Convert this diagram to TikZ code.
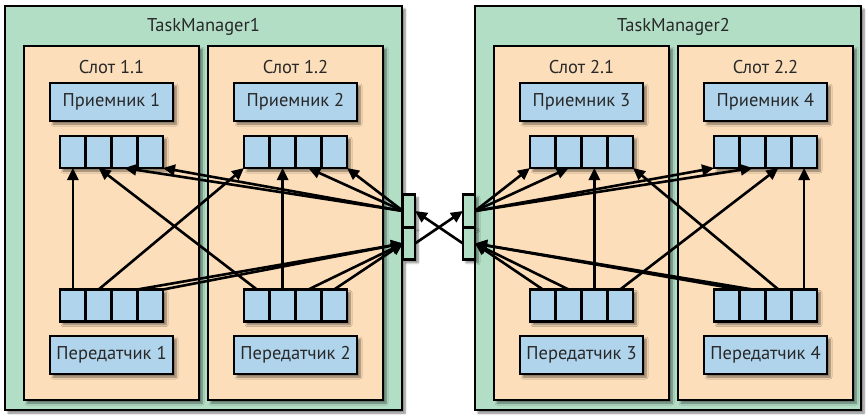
\documentclass[tikz,border=0pt]{standalone}
\usepackage{fontspec}
\setmainfont{PT Sans}
\usetikzlibrary{arrows.meta,shadows.blur}
\definecolor{tmgreen}{RGB}{178,222,198}
\definecolor{slotpeach}{RGB}{252,222,186}
\definecolor{cellblue}{RGB}{176,212,236}
\definecolor{txt}{RGB}{40,40,40}
\tikzset{
  box/.style={draw=black, line width=2.8pt, inner sep=0pt, outer sep=0pt,
    blur shadow={shadow xshift=3pt, shadow yshift=-3pt, shadow blur steps=6, shadow opacity=50}},
  tmbox/.style={box, fill=tmgreen},
  slotbox/.style={box, fill=slotpeach, minimum width=175pt, minimum height=354pt},
  opbox/.style={box, fill=cellblue, minimum width=123pt, minimum height=38pt,
    font=\fontsize{18.5}{20}\selectfont, text=txt},
  qbox/.style={box, fill=cellblue, minimum width=103pt, minimum height=32pt},
  cellbox/.style={draw=black, line width=2.8pt, fill=cellblue, minimum width=25.75pt,
    minimum height=32pt, inner sep=0pt, outer sep=0pt},
  gwbox/.style={box, fill=tmgreen, minimum width=12pt, minimum height=32.5pt},
  conn/.style={line width=2.6pt, -{Triangle[length=12pt,width=11pt]}},
  ttl/.style={font=\fontsize{18.5}{20}\selectfont, inner sep=0pt, text=txt},
}
\newcommand\myqueue[3]{%
  \node[qbox] (#1) at (#2,#3) {};
  \foreach \i in {1,...,4}
    \node[cellbox] (#1c\i) at ({#2-51.5+25.75*(\i-0.5)},#3) {};
}
\begin{document}
\begin{tikzpicture}[x=1pt,y=-1pt]
\useasboundingbox (0,0) rectangle (867,415);
% TaskManagers
\node[tmbox, minimum width=397pt, minimum height=404pt] (tm1) at (203.5,208) {};
\node[tmbox, minimum width=386pt, minimum height=404pt] (tm2) at (668,208) {};
\node[ttl] (tm1t) at (203.5,27) {TaskManager1};
\node[ttl] (tm2t) at (673.5,27) {TaskManager2};
% Slots
\node[slotbox] (sl11) at (111.5,223) {};
\node[slotbox] (sl12) at (295.5,223) {};
\node[slotbox] (sl21) at (581.5,223) {};
\node[slotbox] (sl22) at (765.5,223) {};
\node[ttl] (sl11t) at (111.5,67) {Слот 1.1};
\node[ttl] (sl12t) at (295.5,67) {Слот 1.2};
\node[ttl] (sl21t) at (581.5,67) {Слот 2.1};
\node[ttl] (sl22t) at (765.5,67) {Слот 2.2};
% Receivers and senders
\node[opbox] (r1) at (111.5,102) {Приемник 1};
\node[opbox] (r2) at (295.5,102) {Приемник 2};
\node[opbox] (r3) at (581.5,102) {Приемник 3};
\node[opbox] (r4) at (765.5,102) {Приемник 4};
\node[opbox] (p1) at (111.5,355) {Передатчик 1};
\node[opbox] (p2) at (295.5,355) {Передатчик 2};
\node[opbox] (p3) at (581.5,355) {Передатчик 3};
\node[opbox] (p4) at (765.5,355) {Передатчик 4};
% Queues
\myqueue{u1}{111.5}{152}
\myqueue{u2}{295.5}{152}
\myqueue{u3}{581.5}{152}
\myqueue{u4}{765.5}{152}
\myqueue{s1}{111.5}{305.5}
\myqueue{s2}{295.5}{305.5}
\myqueue{s3}{581.5}{305.5}
\myqueue{s4}{765.5}{305.5}
% Gateways
\node[gwbox] (gwLu) at (409,211) {};
\node[gwbox] (gwLl) at (409,243.5) {};
\node[gwbox] (gwRu) at (469,211) {};
\node[gwbox] (gwRl) at (469,243.5) {};
% TM1 connectors
\draw[conn] (s1c1.north) -- (u1c1.south);
\draw[conn] (s1c2.north) -- (u2c1.south west);
\draw[conn] (s2c1.north) -- (u1c2.south);
\draw[conn] (s2c2.north) -- (u2c2.south);
\draw[conn] (s1c3.north east) -- (gwLl.west);
\draw[conn] (s1c4.north east) -- (gwLl.west);
\draw[conn] (s2c3.north) -- (gwLl.west);
\draw[conn] (s2c4.north) -- (gwLl.west);
\draw[conn] (gwLu.west) -- (u1c3.south);
\draw[conn] (gwLu.west) -- (u1c4.south east);
\draw[conn] (gwLu.west) -- (u2c3.south);
\draw[conn] (gwLu.west) -- (u2c4.south east);
% TM2 connectors
\draw[conn] (s3c3.north) -- (u3c3.south);
\draw[conn] (s3c4.north) -- (u4c3.south);
\draw[conn] (s4c3.north) -- (u3c4.south east);
\draw[conn] (s4c4.north) -- (u4c4.south);
\draw[conn] (s3c1.north) -- (gwRl.east);
\draw[conn] (s3c2.north) -- (gwRl.east);
\draw[conn] (s4c1.north east) -- (gwRl.east);
\draw[conn] (s4c2.north) -- (gwRl.east);
\draw[conn] (gwRu.east) -- (u3c1.south west);
\draw[conn] (gwRu.east) -- (u3c2.south);
\draw[conn] (gwRu.east) -- (u4c1.south west);
\draw[conn] (gwRu.east) -- (u4c2.south);
% Cross connectors
\draw[conn] (gwLl.east) -- (gwRu.west);
\draw[conn] (gwRl.west) -- (gwLu.east);
\end{tikzpicture}
\end{document}
